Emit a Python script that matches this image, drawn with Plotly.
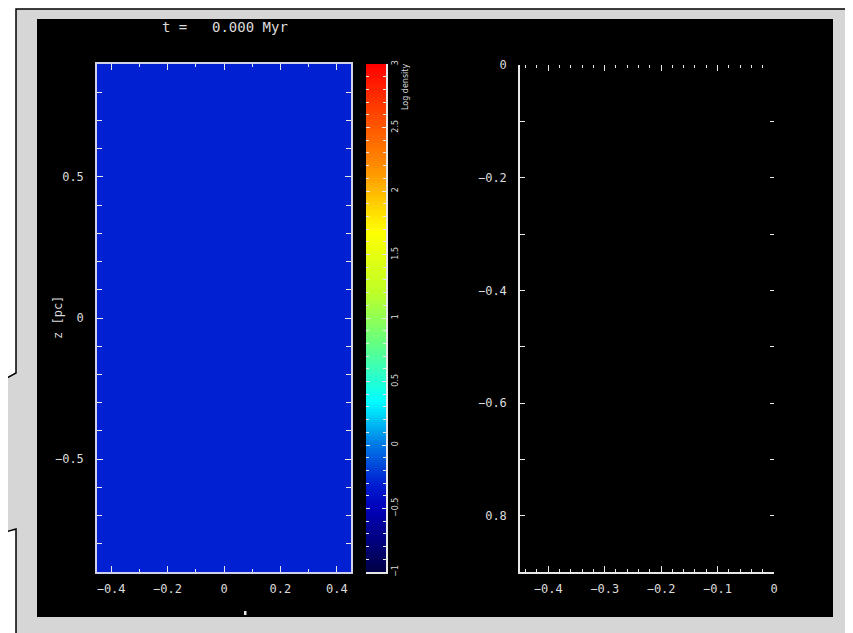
import numpy as np
import plotly.graph_objects as go

W, H = 853, 633
OFF = 8  # page body margin of the exported html


def px(x):
    return (x - OFF) / W


def py(y):
    return 1 - (y - OFF) / H


# ---------------- data ----------------
left_x_edges = [-0.45, 0.45]          # x [pc]
left_z_edges = [-0.9, 0.9]            # z [pc]
log_density = [[-0.3]]                # uniform initial log density

cbar_min, cbar_max = -1.0, 3.0
cbar_tickvals = [-1, -0.5, 0, 0.5, 1, 1.5, 2, 2.5, 3]
cbar_ticktext = ["−1", "−0.5", "0", "0.5", "1", "1.5", "2", "2.5", "3"]

left_xticks = [-0.4, -0.2, 0, 0.2, 0.4]
left_xtext = ["−0.4", "−0.2", "0", "0.2", "0.4"]
left_yticks = [-0.5, 0, 0.5]
left_ytext = ["−0.5", "0", "0.5"]

right_xrange = [-0.45, 0]
right_yrange = [-0.9, 0]
right_xticks = [-0.4, -0.3, -0.2, -0.1, 0]
right_xtext = ["−0.4", "−0.3", "−0.2", "−0.1", "0"]
right_yticks = [0, -0.2, -0.4, -0.6, -0.8]
right_ytext = ["0", "−0.2", "−0.4", "−0.6", "0.8"]

title_t = "t ="
title_time = "0.000 Myr"

colorscale = [
    [0.0, "rgb(0,0,70)"],
    [0.125, "rgb(0,0,185)"],
    [0.175, "rgb(0,32,210)"],
    [0.25, "rgb(0,120,230)"],
    [0.335, "rgb(0,255,255)"],
    [0.45, "rgb(100,255,130)"],
    [0.55, "rgb(190,255,40)"],
    [0.67, "rgb(255,255,0)"],
    [0.8, "rgb(255,140,0)"],
    [0.9, "rgb(255,70,0)"],
    [1.0, "rgb(255,0,0)"],
]

# colour bar levels (the scale itself)
cbar_edges = np.linspace(cbar_min, cbar_max, 201)
cbar_mids = 0.5 * (cbar_edges[:-1] + cbar_edges[1:])

FONT = dict(family="DejaVu Sans Mono", size=12, color="#dcdcdc")
AX = "#e8e8e8"

fig = go.Figure()

fig.add_trace(go.Heatmap(
    x=left_x_edges, y=left_z_edges, z=log_density,
    colorscale=colorscale, zmin=cbar_min, zmax=cbar_max,
    showscale=False, xaxis="x", yaxis="y", hoverinfo="skip"))

fig.add_trace(go.Heatmap(
    x=[0, 1], y=cbar_edges, z=[[v] for v in cbar_mids],
    colorscale=colorscale, zmin=cbar_min, zmax=cbar_max,
    showscale=False, xaxis="x3", yaxis="y3", hoverinfo="skip"))

fig.add_trace(go.Scatter(x=[], y=[], xaxis="x2", yaxis="y2", showlegend=False))
fig.add_trace(go.Scatter(x=[], y=[], xaxis="x4", yaxis="y2", showlegend=False))
fig.add_trace(go.Scatter(x=[], y=[], xaxis="x2", yaxis="y5", showlegend=False))
fig.add_trace(go.Scatter(x=[], y=[], xaxis="x3", yaxis="y4", showlegend=False))

ydom = [py(572), py(64)]

common_tick = dict(ticks="inside", tickcolor=AX, tickwidth=1, tickfont=FONT,
                   showgrid=False, zeroline=False, fixedrange=True,
                   automargin=False)

fig.update_layout(
    width=W, height=H,
    margin=dict(l=0, r=0, t=0, b=0, pad=0, autoexpand=False),
    paper_bgcolor="white",
    plot_bgcolor="rgba(0,0,0,0)",
    showlegend=False,
    hovermode=False,
    xaxis=dict(domain=[px(97), px(351)], range=[-0.45, 0.45], anchor="y",
               tickmode="array", tickvals=left_xticks, ticktext=left_xtext,
               ticklen=6, ticklabelstandoff=5,
               minor=dict(tickmode="linear", tick0=0, dtick=0.1, ticks="inside",
                          ticklen=3, tickcolor=AX, showgrid=False),
               showline=True, linecolor="#d0d0e8", linewidth=1.5, mirror="ticks",
               **common_tick),
    yaxis=dict(domain=ydom, range=[-0.9, 0.9], anchor="x",
               tickmode="array", tickvals=left_yticks, ticktext=left_ytext,
               ticklen=6, ticklabelstandoff=9,
               minor=dict(tickmode="linear", tick0=0, dtick=0.1, ticks="inside",
                          ticklen=5, tickcolor=AX, showgrid=False),
               showline=True, linecolor="#d0d0e8", linewidth=1.5, mirror="ticks",
               **common_tick),
    # colour bar axes
    xaxis3=dict(domain=[px(366), px(386)], range=[0, 1], anchor="y3",
                showticklabels=False, ticks="", showline=True, linecolor=AX,
                linewidth=1.5, showgrid=False, zeroline=False, fixedrange=True,
                automargin=False),
    yaxis3=dict(domain=ydom, range=[cbar_min, cbar_max], anchor="x3", side="right",
                tickmode="array", tickvals=cbar_tickvals, ticktext=cbar_ticktext,
                tickangle=-90, ticklen=4, ticklabelstandoff=1,
                minor=dict(tickmode="linear", tick0=0, dtick=0.1, ticks="inside",
                           ticklen=3, tickcolor=AX, showgrid=False),
                showline=True, linecolor=AX, linewidth=1.5,
                **{**common_tick,
                   "tickfont": dict(family="DejaVu Sans", size=8, color="#dcdcdc")}),
    yaxis4=dict(overlaying="y3", side="left", anchor="x3", range=[cbar_min, cbar_max],
                tickmode="array", tickvals=cbar_tickvals, ticklen=4,
                showticklabels=False, showline=False,
                minor=dict(tickmode="linear", tick0=0, dtick=0.1, ticks="inside",
                           ticklen=3, tickcolor=AX, showgrid=False),
                **common_tick),
    # right panel
    xaxis2=dict(domain=[px(520), px(774)], range=right_xrange, anchor="y2",
                tickmode="array", tickvals=right_xticks, ticktext=right_xtext,
                ticklen=6, ticklabelstandoff=5,
                minor=dict(tickmode="linear", tick0=0, dtick=0.02, ticks="inside",
                           ticklen=3, tickcolor=AX, showgrid=False),
                showline=True, linecolor=AX, linewidth=1.5,
                **common_tick),
    xaxis4=dict(overlaying="x2", side="top", anchor="y2", range=right_xrange,
                tickmode="array", tickvals=right_xticks, ticklen=6,
                showticklabels=False, showline=False,
                minor=dict(tickmode="linear", tick0=0, dtick=0.02, ticks="inside",
                           ticklen=3, tickcolor=AX, showgrid=False),
                **common_tick),
    yaxis2=dict(domain=[py(572), py(65)], range=right_yrange, anchor="x2",
                tickmode="array", tickvals=right_yticks, ticktext=right_ytext,
                ticklen=5, ticklabelstandoff=9,
                minor=dict(tickmode="linear", tick0=0, dtick=0.1, ticks="inside",
                           ticklen=5, tickcolor=AX, showgrid=False),
                showline=True, linecolor=AX, linewidth=1.5,
                **common_tick),
    yaxis5=dict(overlaying="y2", side="right", anchor="x2", range=right_yrange,
                tickmode="array", tickvals=right_yticks, ticklen=4,
                showticklabels=False, showline=False,
                minor=dict(tickmode="linear", tick0=0, dtick=0.1, ticks="inside",
                           ticklen=4, tickcolor=AX, showgrid=False),
                **common_tick),
)

# callout frame and black panel
frame_pts = [(16, 660), (16, 529), (-6, 535), (-6, 385), (16, 373),
             (16, 9), (847, 9), (847, 660)]
path = "M " + " L ".join(f"{px(x):.5f},{py(y):.5f}" for x, y in frame_pts) + " Z"
fig.add_shape(type="path", path=path, xref="paper", yref="paper",
              fillcolor="#d6d6d6", line=dict(color="black", width=1.5), layer="below")
fig.add_shape(type="rect", xref="paper", yref="paper",
              x0=px(37), x1=px(833), y0=py(617), y1=py(19),
              fillcolor="black", line=dict(width=0), layer="below")
# remnant of the x-axis title
fig.add_shape(type="rect", xref="paper", yref="paper",
              x0=px(244), x1=px(246.5), y0=py(615), y1=py(611),
              fillcolor="#e4e4e4", line=dict(width=0))

ann = dict(xref="paper", yref="paper", showarrow=False,
           xanchor="center", yanchor="middle")
fig.add_annotation(x=px(174), y=py(27), text=title_t,
                   font=dict(FONT, size=14), **ann)
fig.add_annotation(x=px(250), y=py(27), text=title_time,
                   font=dict(FONT, size=14), **ann)
fig.add_annotation(x=px(58), y=py(318), text="z [pc]", textangle=-90,
                   font=dict(FONT, size=12), **ann)
fig.add_annotation(x=px(405), y=py(87), text="Log density", textangle=-90,
                   font=dict(family="DejaVu Sans", size=8, color="#dcdcdc"), **ann)

fig.write_html("out.html")
